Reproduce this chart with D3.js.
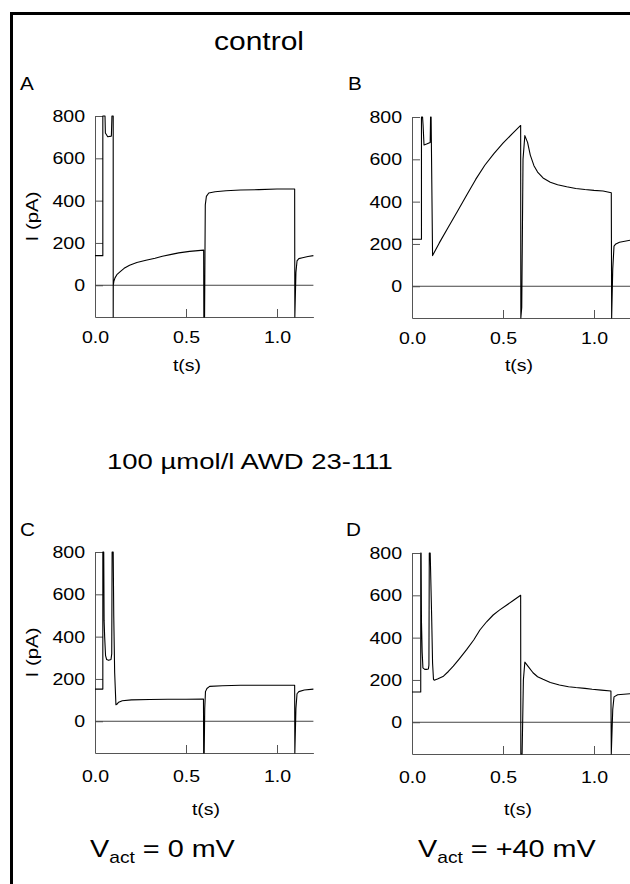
<!DOCTYPE html>
<html>
<head>
<meta charset="utf-8">
<script src="https://cdn.jsdelivr.net/npm/d3@7"></script>
<style>
  html, body { margin: 0; padding: 0; background: #fff; }
  svg { display: block; }
</style>
</head>
<body>
<svg id="chart" width="630" height="884"></svg>
<script>
// ---------------- data ----------------
const yTicks = [0, 200, 400, 600, 800];
const xTicks = [0, 0.5, 1.0];
const yDomain = [-150, 800];
const xDomain = [0, 1.2];

// Panel A: control, Vact = 0 mV
const tA = [0, 0.043, 0.043, 0.055, 0.057, 0.07, 0.09, 0.093, 0.1, 0.1, 0.1005, 0.104, 0.11, 0.12, 0.137, 0.16, 0.19, 0.23, 0.28, 0.33, 0.37, 0.42, 0.46, 0.52, 0.597, 0.598, 0.602, 0.606, 0.612, 0.625, 0.66, 0.72, 0.8, 0.9, 1.0, 1.097, 1.098, 1.104, 1.11, 1.12, 1.14, 1.17, 1.2];
const iA = [140, 140, 1500, 1500, 720, 702, 705, 1500, 1500, -400, 0, 20, 35, 50, 63, 80, 95, 108, 118, 128, 137, 146, 153, 160, 166, -400, -200, 380, 420, 436, 442, 447, 450, 452, 455, 455, -400, 60, 115, 126, 130, 136, 140];

// Panel B: control, Vact = +40 mV
const tB = [0, 0.052, 0.052, 0.058, 0.061, 0.066, 0.08, 0.1, 0.102, 0.105, 0.113, 0.15, 0.2, 0.25, 0.3, 0.35, 0.4, 0.45, 0.5, 0.55, 0.597, 0.598, 0.603, 0.61, 0.62, 0.635, 0.65, 0.67, 0.69, 0.72, 0.76, 0.8, 0.85, 0.9, 0.95, 1.0, 1.05, 1.095, 1.097, 1.103, 1.11, 1.12, 1.14, 1.2];
const iB = [222, 222, 1500, 1500, 760, 668, 672, 680, 1500, 1500, 145, 205, 280, 355, 430, 505, 572, 627, 676, 720, 760, -400, -100, 600, 712, 680, 620, 570, 540, 512, 492, 480, 470, 462, 457, 453, 450, 442, -400, 80, 190, 200, 208, 218];

// Panel C: 100 umol/l AWD 23-111, Vact = 0 mV
const tC = [0, 0.043, 0.043, 0.048, 0.05, 0.053, 0.058, 0.064, 0.075, 0.088, 0.092, 0.094, 0.1, 0.103, 0.108, 0.115, 0.12, 0.13, 0.15, 0.2, 0.3, 0.4, 0.5, 0.596, 0.597, 0.6, 0.603, 0.607, 0.615, 0.63, 0.7, 0.8, 0.9, 1.0, 1.097, 1.098, 1.104, 1.11, 1.12, 1.15, 1.2];
const iC = [152, 152, 1500, 1500, 478, 400, 310, 292, 288, 292, 320, 1500, 1500, 500, 230, 78, 80, 90, 97, 101, 103, 104, 104, 105, -400, -400, 60, 140, 155, 165, 168, 170, 170, 170, 170, -400, 60, 130, 140, 148, 152];

// Panel D: 100 umol/l AWD 23-111, Vact = +40 mV
const tD = [0, 0.048, 0.048, 0.05, 0.052, 0.056, 0.06, 0.07, 0.08, 0.09, 0.093, 0.095, 0.1, 0.108, 0.113, 0.118, 0.122, 0.14, 0.173, 0.2, 0.227, 0.26, 0.3, 0.34, 0.373, 0.41, 0.446, 0.48, 0.519, 0.56, 0.597, 0.598, 0.605, 0.612, 0.62, 0.64, 0.665, 0.69, 0.72, 0.76, 0.81, 0.86, 0.9, 0.95, 0.99, 1.04, 1.093, 1.095, 1.103, 1.11, 1.13, 1.2];
const iD = [143, 143, 1500, 1500, 475, 330, 257, 250, 250, 252, 270, 1500, 1500, 500, 280, 203, 199, 205, 218, 240, 265, 300, 343, 390, 436, 475, 507, 530, 553, 578, 600, -400, -200, 200, 284, 262, 234, 215, 203, 188, 176, 168, 164, 160, 156, 152, 148, -400, 60, 120, 130, 135];

// ---------------- layout ----------------
const FONT = "'Liberation Sans', Arial, Helvetica, sans-serif";
const plotW = 218.4, plotH = 201;
const panels = [
  {t: tA, i: iA, left: 95,  top: 116, letter: "A", lx: 20,  ly: 90,  yLabel: true,  tsx: 187, tsy: 371},
  {t: tB, i: iB, left: 412, top: 117, letter: "B", lx: 348, ly: 90,  yLabel: false, tsx: 519, tsy: 371},
  {t: tC, i: iC, left: 95,  top: 552, letter: "C", lx: 20,  ly: 536, yLabel: true,  tsx: 206, tsy: 815},
  {t: tD, i: iD, left: 412, top: 553, letter: "D", lx: 346, ly: 536, yLabel: false, tsx: 518, tsy: 815}
];

const svg = d3.select("#chart");

function stretchText(sel, sx) {
  sel.each(function() {
    const t = d3.select(this);
    const x = +t.attr("x") || 0, y = +t.attr("y") || 0;
    t.attr("x", 0).attr("y", 0).attr("transform", `translate(${x},${y}) scale(${sx},1)`);
  });
}

function addText(x, y, str, size, sx, anchor, rotate) {
  const g = svg.append("text")
    .attr("transform", `translate(${x},${y})${rotate ? " rotate(" + rotate + ")" : ""} scale(${sx},1)`)
    .attr("font-family", FONT).attr("font-size", size)
    .attr("text-anchor", anchor || "start").attr("fill", "#000");
  g.text(str);
  return g;
}

// frame (left and top border)
svg.append("path")
  .attr("d", d3.line()([[11.5, 884], [11.5, 13.5], [630, 13.5]]))
  .attr("fill", "none").attr("stroke", "#000").attr("stroke-width", 3);

panels.forEach(p => {
  const x = d3.scaleLinear().domain(xDomain).range([p.left, p.left + plotW]);
  const y = d3.scaleLinear().domain(yDomain).range([p.top + plotH, p.top]).clamp(true);

  // y axis
  const ya = svg.append("g").attr("transform", `translate(${p.left},0)`)
    .call(d3.axisLeft(y).tickValues(yTicks).tickFormat(d3.format("d"))
      .tickSizeInner(-8).tickSizeOuter(0).tickPadding(10));
  ya.selectAll("path, line").attr("stroke", "#555").attr("stroke-width", 1);
  ya.selectAll("text").attr("font-family", FONT).attr("font-size", 17).attr("fill", "#000");
  stretchText(ya.selectAll("text"), 1.15);

  // x axis
  const xa = svg.append("g").attr("transform", `translate(0,${p.top + plotH})`)
    .call(d3.axisBottom(x).tickValues(xTicks).tickFormat(d3.format(".1f"))
      .tickSizeInner(-8).tickSizeOuter(0).tickPadding(p.top > 300 ? 17 : 14));
  xa.selectAll("path, line").attr("stroke", "#555").attr("stroke-width", 1);
  xa.selectAll("text").attr("font-family", FONT).attr("font-size", 17).attr("fill", "#000");
  stretchText(xa.selectAll("text"), 1.15);

  // zero line
  svg.append("line")
    .attr("x1", x(xDomain[0])).attr("x2", x(xDomain[1]))
    .attr("y1", y(0)).attr("y2", y(0))
    .attr("stroke", "#444").attr("stroke-width", 1);

  // current trace
  const pts = p.t.map((tv, k) => [tv, p.i[k]]);
  svg.append("path")
    .datum(pts)
    .attr("d", d3.line().x(d => x(d[0])).y(d => y(d[1])))
    .attr("fill", "none").attr("stroke", "#000").attr("stroke-width", 1.1)
    .attr("stroke-linejoin", "round");

  // labels
  addText(p.lx, p.ly, p.letter, 18, 1.15, "start");
  addText(p.tsx, p.tsy, "t(s)", 17, 1.15, "middle");
  if (p.yLabel) addText(p.left - 57, p.top + plotH / 2, "I (pA)", 17, 1.2, "middle", -90);
});

// titles
addText(259, 50, "control", 25, 1.2, "middle");
addText(107, 469, "100 \u00b5mol/l AWD 23-111", 22, 1.25, "start");

// Vact labels
function vact(x, y, rest) {
  const t = svg.append("text")
    .attr("transform", `translate(${x},${y}) scale(1.2,1)`)
    .attr("font-family", FONT).attr("font-size", 24).attr("fill", "#000");
  t.append("tspan").text("V");
  t.append("tspan").attr("font-size", 16).attr("dy", 6).text("act");
  t.append("tspan").attr("dy", -6).text(rest);
}
vact(90, 857, " = 0 mV");
vact(418, 857, " = +40 mV");
</script>
</body>
</html>
